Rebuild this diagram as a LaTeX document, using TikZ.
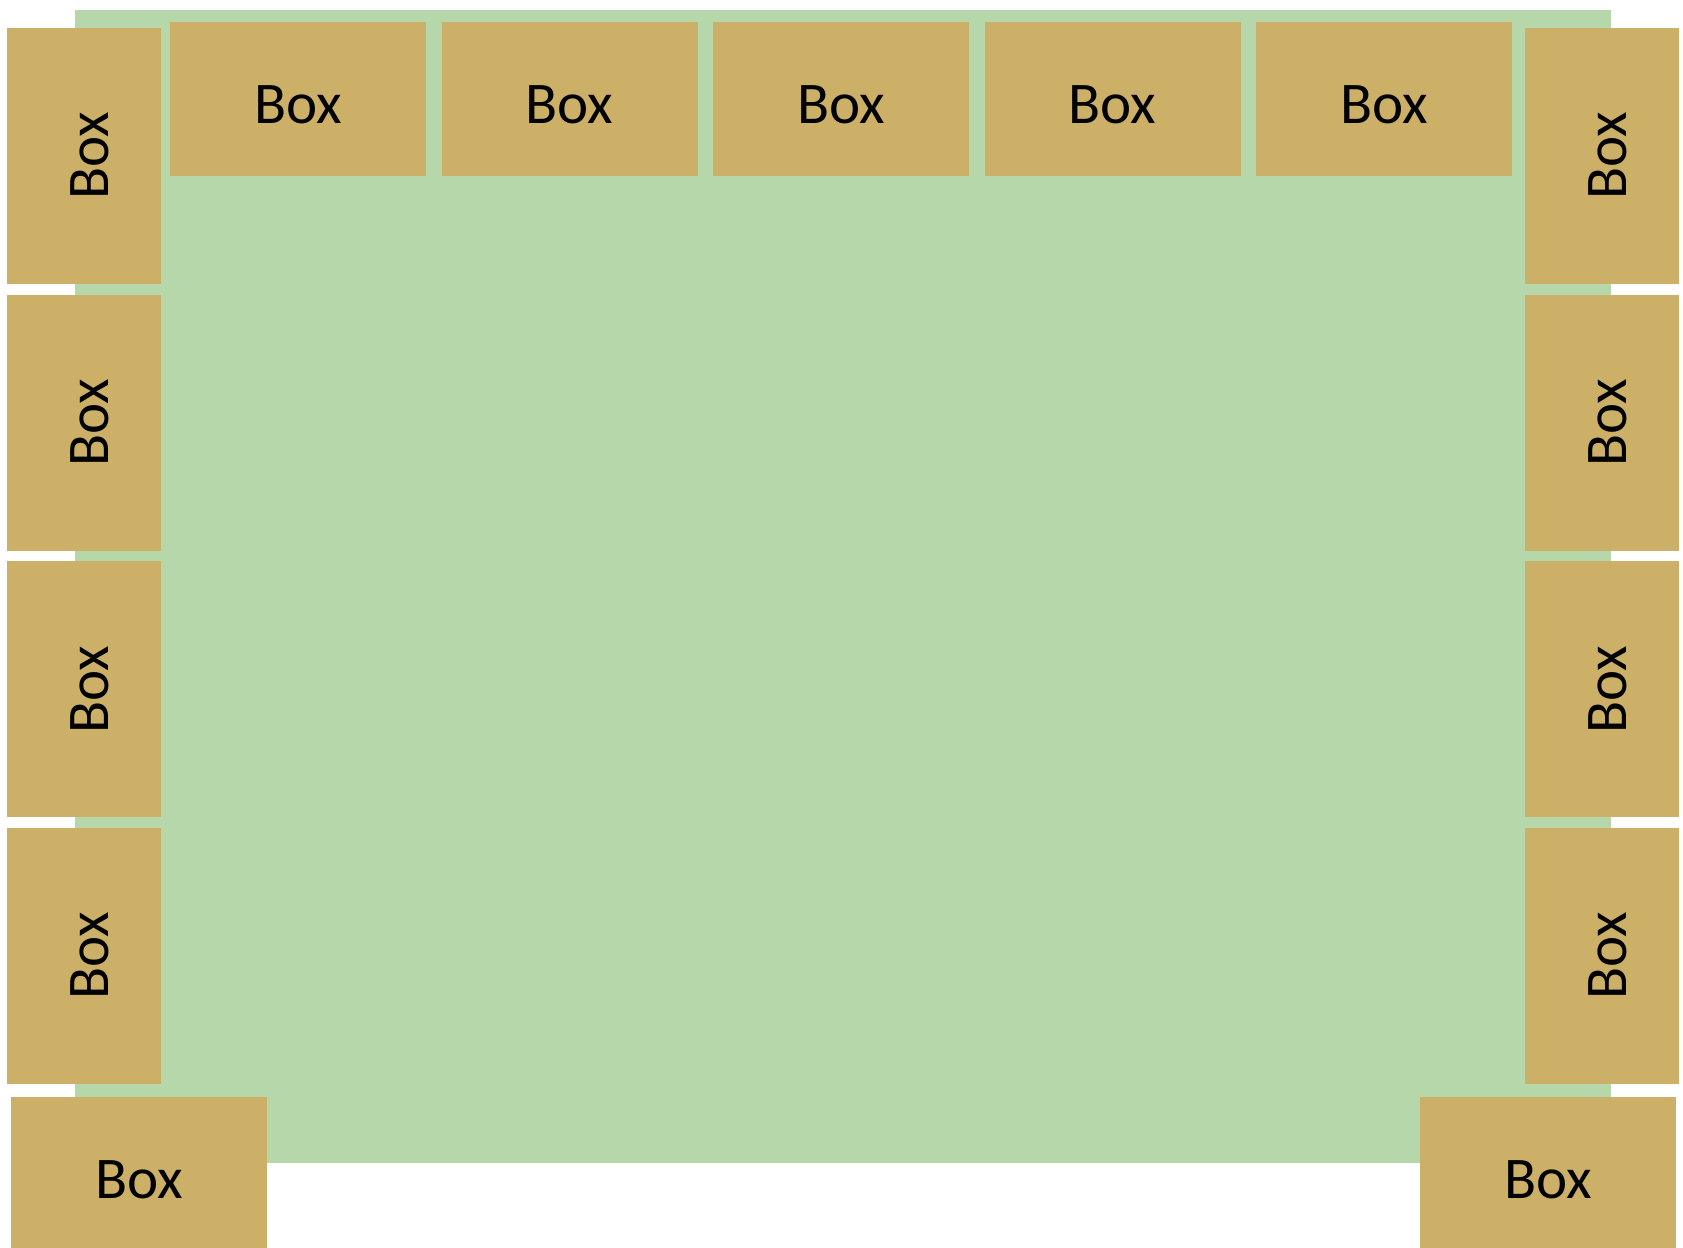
\documentclass[tikz,border=0pt]{standalone}
\usepackage{fontspec}
\setmainfont{Carlito}
\definecolor{bggreen}{RGB}{181,215,170}
\definecolor{boxtan}{RGB}{205,176,103}
\begin{document}
\begin{tikzpicture}[x=0.05cm,y=-0.05cm,
  hbox/.style={rectangle,fill=boxtan,draw=none,inner sep=0pt,
    minimum width=256*0.05cm,minimum height=154*0.05cm},
  vbox/.style={rectangle,fill=boxtan,draw=none,inner sep=0pt,
    minimum width=154*0.05cm,minimum height=256*0.05cm},
  htext/.style={inner sep=0pt,font=\fontsize{84}{100}\selectfont,yshift=-5.5*0.05cm},
  vtext/.style={rotate=90,inner sep=0pt,font=\fontsize{84}{100}\selectfont,yshift=-5.5*0.05cm}]
\useasboundingbox (0,0) rectangle (1683,1248);
\clip (0,0) rectangle (1683,1248);
\fill[bggreen] (75,10) rectangle (1611,1163);
% top row
\foreach \i in {0,...,4} {
  \node[hbox] (t\i) at ({298+271.5*\i},99) {};
  \node[htext] (tt\i) at (t\i.center) {Box};
}
% side columns
\foreach \j in {0,...,3} {
  \node[vbox] (l\j) at (84,{156+266.7*\j}) {};
  \node[vtext] (lt\j) at (l\j.center) {Box};
  \node[vbox] (r\j) at (1602,{156+266.7*\j}) {};
  \node[vtext] (rt\j) at (r\j.center) {Box};
}
% bottom corners
\node[hbox] (bl) at (139,1174) {};
\node[htext] (blt) at (bl.center) {Box};
\node[hbox] (br) at (1548,1174) {};
\node[htext] (brt) at (br.center) {Box};
\end{tikzpicture}
\end{document}
